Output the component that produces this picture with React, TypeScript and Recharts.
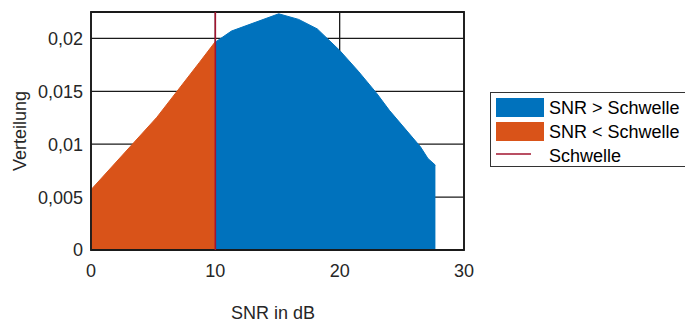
import React from 'react';
import { ComposedChart, Area, XAxis, YAxis, CartesianGrid, ReferenceLine, ReferenceArea } from 'recharts';

const lowSnr = [0, 5.3, 8.7, 10];
const lowVal = [0.0057, 0.01255, 0.0177, 0.0197];
const highSnr = [10, 11.3, 15.1, 16.7, 18.2, 20, 21.5, 23, 24, 26.5, 27.1, 27.7];
const highVal = [0.01965, 0.0207, 0.02233, 0.0218, 0.0209, 0.01887, 0.0169, 0.01478, 0.0132, 0.00975, 0.00865, 0.00802];
const xTicks = [0, 10, 20, 30];
const yTicks = [0, 0.005, 0.01, 0.015, 0.02];
const threshold = 10;
const legendLabels = ['SNR > Schwelle', 'SNR < Schwelle', 'Schwelle'];

const lowData = lowSnr.map((x, i) => ({ x, y: lowVal[i] }));
const highData = highSnr.map((x, i) => ({ x, y: highVal[i] }));

const BLUE = '#0072BD';
const ORANGE = '#D95319';
const RED = '#A2142F';
const FONT = '"Liberation Sans", Arial, sans-serif';
const TXT = '#262626';

const fmt = (v: number) => String(v).replace('.', ',');

export default function App() {
  return (
    <div style={{ position: 'absolute', left: 0, top: 0, width: 685, height: 324, fontFamily: FONT, overflow: 'hidden', background: '#fff' }}>
      <ComposedChart width={685} height={324} margin={{ top: 12, right: 221, left: 0, bottom: 0 }}>
        <CartesianGrid stroke="#1a1a1a" strokeWidth={1.3} />
        <XAxis
          dataKey="x"
          type="number"
          domain={[0, 30]}
          ticks={xTicks}
          allowDuplicatedCategory={false}
          height={74}
          axisLine={false}
          tickLine={false}
          tick={{ fontSize: 18, fill: TXT, fontFamily: FONT }}
          tickMargin={8}
          label={{
            content: () => (
              <text x={273} y={313} textAnchor="middle" dominantBaseline="central" fontSize={18} fill={TXT} fontFamily={FONT}>
                SNR in dB
              </text>
            ),
          }}
        />
        <YAxis
          type="number"
          domain={[0, 0.0225]}
          ticks={yTicks}
          width={91}
          axisLine={false}
          tickLine={false}
          tickFormatter={fmt}
          tick={{ fontSize: 18, fill: TXT, fontFamily: FONT }}
          tickMargin={2}
          label={{
            content: () => (
              <text x={20} y={131} transform="rotate(-90 20 131)" textAnchor="middle" dominantBaseline="central" fontSize={18} fill={TXT} fontFamily={FONT}>
                Verteilung
              </text>
            ),
          }}
        />
        <Area data={lowData} dataKey="y" type="linear" fill={ORANGE} fillOpacity={1} stroke={ORANGE} strokeWidth={1} isAnimationActive={false} dot={false} activeDot={false} />
        <Area data={highData} dataKey="y" type="linear" fill={BLUE} fillOpacity={1} stroke={BLUE} strokeWidth={1} isAnimationActive={false} dot={false} activeDot={false} />
        <ReferenceLine x={threshold} stroke={RED} strokeWidth={1.6} />
        <ReferenceArea x1={0} x2={30} y1={0} y2={0.0225} fill="none" stroke="#1a1a1a" strokeWidth={1.8} ifOverflow="visible" />
      </ComposedChart>
      <div style={{ position: 'absolute', left: 490, top: 92, width: 220, height: 75, border: '1px solid #333', boxSizing: 'border-box', background: '#fff' }}>
        <svg width={220} height={75} style={{ position: 'absolute', left: 0, top: 0 }}>
          <rect x={5} y={5} width={48} height={19} fill={BLUE} />
          <rect x={5} y={29} width={48} height={19} fill={ORANGE} />
          <line x1={5} x2={40} y1={61} y2={61} stroke={RED} strokeWidth={1.5} />
          {legendLabels.map((t, i) => (
            <text key={t} x={58} y={15 + i * 24} dominantBaseline="central" fontSize={18} fill="#000" fontFamily={FONT}>
              {t}
            </text>
          ))}
        </svg>
      </div>
    </div>
  );
}
